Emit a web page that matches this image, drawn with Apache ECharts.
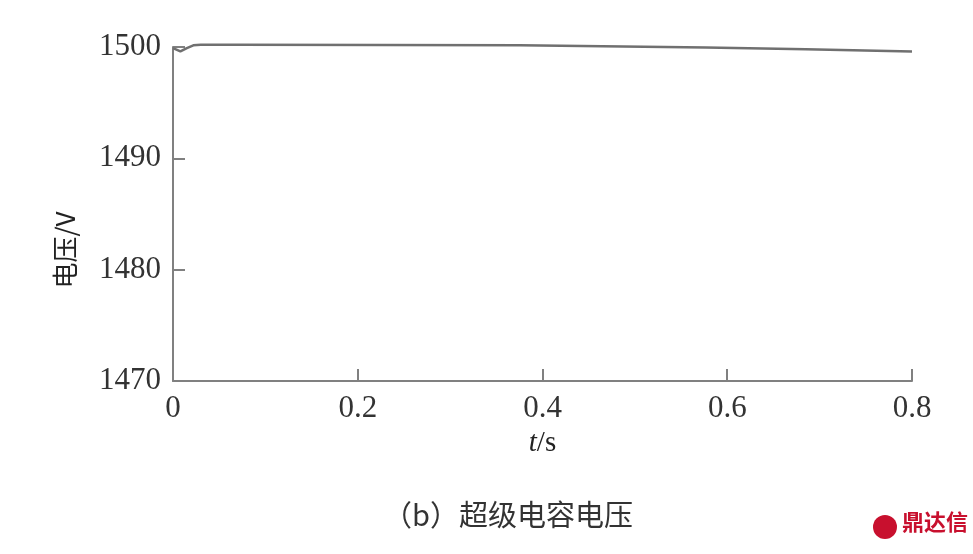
<!DOCTYPE html>
<html><head><meta charset="utf-8">
<script src="https://cdn.jsdelivr.net/npm/echarts@6/dist/echarts.min.js"></script>
<style>html,body{margin:0;padding:0;background:#fff}#c{width:973px;height:554px}</style>
</head><body><div id="c"></div>
<script>
const timeS = [0, 0.008, 0.015, 0.022, 0.03, 0.07, 0.375, 0.377, 0.577, 0.579, 0.685, 0.687, 0.8];
const voltageV = [1499.9, 1499.6, 1499.9, 1500.15, 1500.2, 1500.2, 1500.15, 1500.0, 1499.95, 1499.8, 1499.8, 1499.65, 1499.6];
const xTicks = [0, 0.2, 0.4, 0.6, 0.8];
const yTicks = [1470, 1480, 1490, 1500];
const chart = echarts.init(document.getElementById('c'));
const serif = 'Liberation Serif, Times New Roman, serif';
chart.setOption({
  animation: false,
  grid: {left: 173, right: 61, top: 47, bottom: 173},
  xAxis: {
    type: 'value', min: xTicks[0], max: xTicks[xTicks.length-1], interval: 0.2,
    name: '{i|t}/s', nameLocation: 'middle', nameGap: 48,
    nameTextStyle: {fontFamily: serif, fontSize: 29, color: '#222', rich: {i: {fontStyle: 'italic', fontFamily: serif, fontSize: 29, color: '#222'}}},
    axisLine: {lineStyle: {color: '#808080', width: 2}},
    axisTick: {inside: true, length: 12, lineStyle: {color: '#808080', width: 2}},
    axisLabel: {fontFamily: serif, fontSize: 31, color: '#333', margin: 12, formatter: v => String(v)},
    splitLine: {show: false}
  },
  yAxis: {
    type: 'value', min: yTicks[0], max: yTicks[yTicks.length-1], interval: 10,
    axisLine: {show: true, lineStyle: {color: '#808080', width: 2}},
    axisTick: {show: true, inside: true, length: 12, lineStyle: {color: '#808080', width: 2}},
    axisLabel: {fontFamily: serif, fontSize: 31, color: '#333', margin: 12, formatter: v => String(v)},
    splitLine: {show: false}
  },
  series: [{
    type: 'line', data: timeS.map((t, i) => [t, voltageV[i]]),
    showSymbol: false, clip: false, smooth: false,
    lineStyle: {color: '#707070', width: 2.5}
  }],
  graphic: [
    {type: 'text', x: 65, y: 250, rotation: Math.PI / 2, style: {text: '电压/V', fontFamily: 'Noto Sans CJK SC, sans-serif', fontSize: 26, fill: '#222', align: 'center', verticalAlign: 'middle'}},
    {type: 'text', x: 508, y: 515, style: {text: '（b）超级电容电压', fontFamily: 'Noto Sans CJK SC, sans-serif', fontSize: 29, fontWeight: 400, fill: '#333', letterSpacing: 9, align: 'center', verticalAlign: 'middle'}},
    {type: 'circle', shape: {cx: 885, cy: 527, r: 12}, style: {fill: '#c8102e'}},
    {type: 'text', left: 902, top: 511, style: {text: '鼎达信', fontFamily: 'Noto Sans CJK SC, sans-serif', fontSize: 22, fontWeight: 'bold', fill: '#c8102e'}}
  ]
});
</script></body></html>
